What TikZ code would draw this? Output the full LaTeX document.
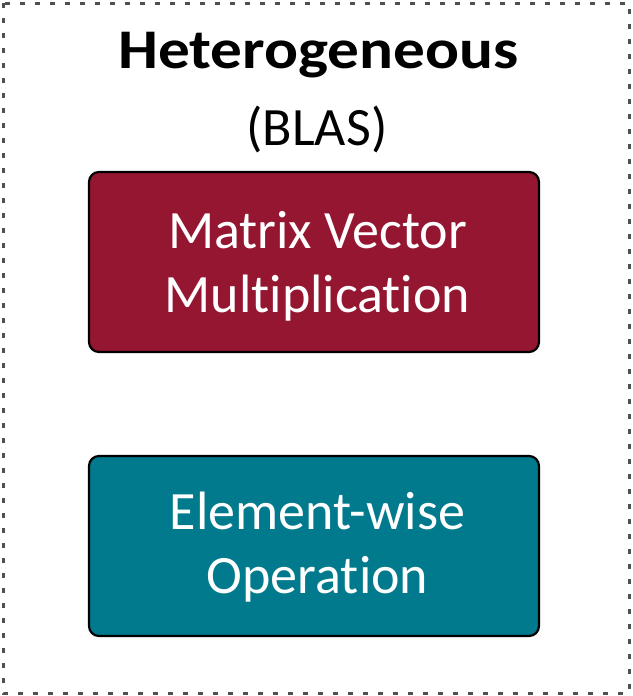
\documentclass[tikz,border=0pt]{standalone}
\usepackage{fontspec}
\setmainfont{Carlito}[Ligatures={NoCommon},RawFeature={-liga}]
\definecolor{mvmred}{HTML}{951631}
\definecolor{ewteal}{HTML}{007A8C}
\definecolor{frame}{HTML}{505050}
\begin{document}
\begin{tikzpicture}[x=1pt,y=-1pt,
  opbox/.style={draw=black, line width=2.2pt, rounded corners=10pt,
    minimum width=450pt, minimum height=180pt, inner sep=0pt},
  boxtext/.style={text=white, anchor=base, inner sep=0pt,
    font=\fontsize{54}{64}\selectfont},
  headtext/.style={anchor=base, inner sep=0pt}]
  \useasboundingbox (0,0) rectangle (632,696);
  % dashed outer frame
  \draw[frame, line width=3pt, dash pattern=on 5pt off 10pt]
    (3,3) rectangle (629,693);
  % heading
  \node[headtext, font=\fontsize{56}{64}\selectfont\bfseries, xscale=1.13]
    (title) at (318.5,68) {Heterogeneous};
  \node[headtext, font=\fontsize{54}{64}\selectfont] (sub) at (317,145) {(BLAS)};
  % operation boxes
  \node[opbox, fill=mvmred] (mvm) at (314,262) {};
  \node[boxtext] (mvm1) at (317.5,248) {Matrix Vector};
  \node[boxtext] (mvm2) at (317.5,312) {Multiplication};
  \node[opbox, fill=ewteal] (ew) at (314,546) {};
  \node[boxtext] (ew1) at (317.5,529) {Element-wise};
  \node[boxtext] (ew2) at (317.5,593) {Operation};
\end{tikzpicture}
\end{document}
